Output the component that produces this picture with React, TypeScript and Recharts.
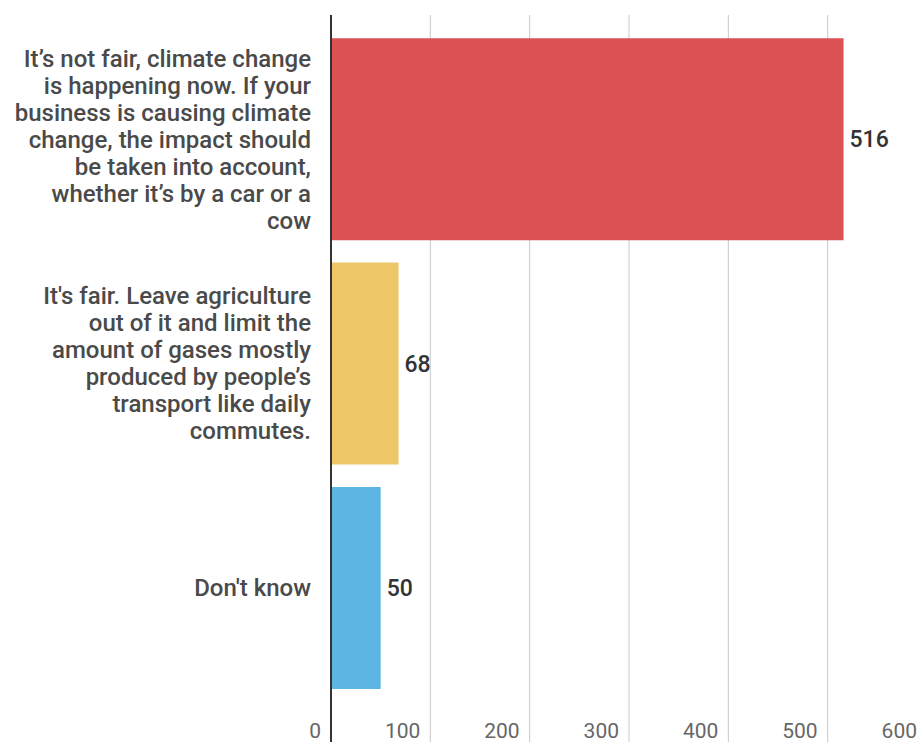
import React from 'react';
import { BarChart, Bar, XAxis, YAxis, CartesianGrid, Cell, LabelList } from 'recharts';

const categories = [
	'It’s not fair, climate change\nis happening now. If your\nbusiness is causing climate\nchange, the impact should\nbe taken into account,\nwhether it’s by a car or a\ncow',
	'It\'s fair. Leave agriculture\nout of it and limit the\namount of gases mostly\nproduced by people’s\ntransport like daily\ncommutes.',
	'Don\'t know',
];
const votes = [516, 68, 50];
const barColors = ['#dc5153', '#edc767', '#5cb5e3'];
const xTicks = [0, 100, 200, 300, 400, 500, 600];

const data = categories.map((name, i) => ({ name, value: votes[i] }));

const FONT = 'Roboto, "Noto Sans", sans-serif';

const CategoryTick = (props: any) => {
	const { x, y, payload } = props;
	const lines: string[] = String(payload.value).split('\n');
	const lineHeight = 27;
	const startY = y - ((lines.length - 1) * lineHeight) / 2;
	return (
		<text
			x={x - 20}
			y={startY}
			textAnchor="end"
			fill="#4a4a4a"
			fontFamily={FONT}
			fontSize={24}
			fontWeight={500}
		>
			{lines.map((line, i) => (
				<tspan key={i} x={x - 20} y={startY + i * lineHeight} dy="0.35em">
					{line}
				</tspan>
			))}
		</text>
	);
};

const ValueTick = (props: any) => {
	const { x, y, payload } = props;
	return (
		<text
			x={x - 10}
			y={y - 12}
			textAnchor="end"
			fill="#666666"
			fontFamily={FONT}
			fontSize={21}
		>
			{payload.value}
		</text>
	);
};

const App: React.FC = () => {
	return (
		<div style={{ position: 'absolute', left: 0, top: 0, width: 917, height: 742, overflow: 'hidden', background: '#fff' }}>
			<BarChart
				width={940}
				height={760}
				data={data}
				layout="vertical"
				barCategoryGap="5%"
				margin={{ top: 15, right: 13, left: 0, bottom: 0 }}
			>
				<CartesianGrid horizontal={false} stroke="#c8c8c8" strokeWidth={1} />
				<XAxis
					type="number"
					domain={[0, 600]}
					ticks={xTicks}
					height={10}
					axisLine={false}
					tickLine={false}
					tickSize={0}
					tickMargin={0}
					tick={<ValueTick />}
					interval={0}
				/>
				<YAxis
					type="category"
					dataKey="name"
					width={331}
					padding={{ top: 12, bottom: 50 }}
					axisLine={{ stroke: '#333333', strokeWidth: 2 }}
					tickLine={false}
					tickSize={0}
					tickMargin={0}
					tick={<CategoryTick />}
					interval={0}
				/>
				<Bar dataKey="value" isAnimationActive={false}>
					{data.map((d, i) => (
						<Cell key={i} fill={barColors[i]} />
					))}
					<LabelList
						dataKey="value"
						position="right"
						offset={6}
						fill="#333333"
						fontFamily={FONT}
						fontSize={23}
						fontWeight={500}
					/>
				</Bar>
			</BarChart>
		</div>
	);
};

export default App;
